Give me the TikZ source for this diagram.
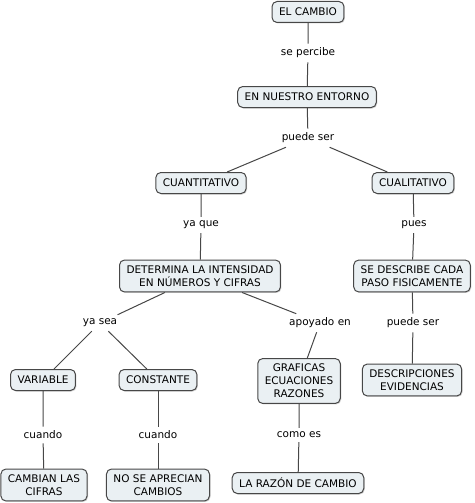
\documentclass[tikz,border=0pt]{standalone}
\usepackage{fontspec}
\setmainfont{DejaVu Sans}
\usetikzlibrary{shadows}
\definecolor{conceptfill}{HTML}{EAF0F3}
\definecolor{linkgray}{HTML}{474747}

\begin{document}
\begin{tikzpicture}[x=1pt,y=-1pt,every node/.style={font=\fontsize{10.5}{13}\selectfont},
 concept/.style={draw=linkgray,line width=1pt,fill=conceptfill,rounded corners=5pt,align=center,inner xsep=7pt,inner ysep=5.5pt,minimum height=21pt,drop shadow={shadow xshift=1pt,shadow yshift=-1pt,opacity=.35}},
 linkword/.style={fill=white,inner sep=4pt},
 link/.style={draw=linkgray,line width=1pt}]
\useasboundingbox (0,0) rectangle (474,503);
\node[concept] (cambio) at (308,12) {EL CAMBIO};
\node[linkword] (percibe) at (308,53) {se percibe};
\node[concept] (entorno) at (307,97) {EN NUESTRO ENTORNO};
\node[linkword] (puede) at (308,138) {puede ser};
\node[concept] (cuanti) at (201,183) {CUANTITATIVO};
\node[concept] (cuali) at (413,183) {CUALITATIVO};
\node[linkword] (yaque) at (201,225) {ya que};
\node[linkword] (pues) at (414,225) {pues};
\node[concept] (determina) at (200,276) {DETERMINA LA INTENSIDAD\\EN NÚMEROS Y CIFRAS};
\node[concept] (describe) at (412,276) {SE DESCRIBE CADA\\PASO FISICAMENTE};
\node[linkword] (yasea) at (100,323) {ya sea};
\node[linkword] (apoyado) at (320,323) {apoyado en};
\node[linkword] (puede2) at (413,323) {puede ser};
\node[concept] (variable) at (43,380) {VARIABLE};
\node[concept] (constante) at (158,380) {CONSTANTE};
\node[concept] (graficas) at (299,381) {GRAFICAS\\ECUACIONES\\RAZONES};
\node[concept] (descrip) at (412,380) {DESCRIPCIONES\\EVIDENCIAS};
\node[linkword] (cuando1) at (43,435) {cuando};
\node[linkword] (cuando2) at (158,435) {cuando};
\node[linkword] (comoes) at (299,435) {como es};
\node[concept] (cifras) at (44,485) {CAMBIAN LAS\\CIFRAS};
\node[concept] (aprecian) at (158,485) {NO SE APRECIAN\\CAMBIOS};
\node[concept] (razon) at (298,483) {LA RAZÓN DE CAMBIO};
% connectors
\draw[link] (cambio)--(percibe) (percibe)--(entorno);
\draw[link] (entorno)--(puede) (puede)--(cuanti) (puede)--(cuali);
\draw[link] (cuanti)--(yaque) (yaque)--(determina);
\draw[link] (cuali)--(pues) (pues)--(describe);
\draw[link] (determina)--(yasea) (yasea)--(variable) (yasea)--(constante);
\draw[link] (determina)--(apoyado) (apoyado)--(graficas);
\draw[link] (describe)--(puede2) (puede2)--(descrip);
\draw[link] (variable)--(cuando1) (cuando1)--(cifras);
\draw[link] (constante)--(cuando2) (cuando2)--(aprecian);
\draw[link] (graficas)--(comoes) (comoes)--(razon);
\end{tikzpicture}
\end{document}
